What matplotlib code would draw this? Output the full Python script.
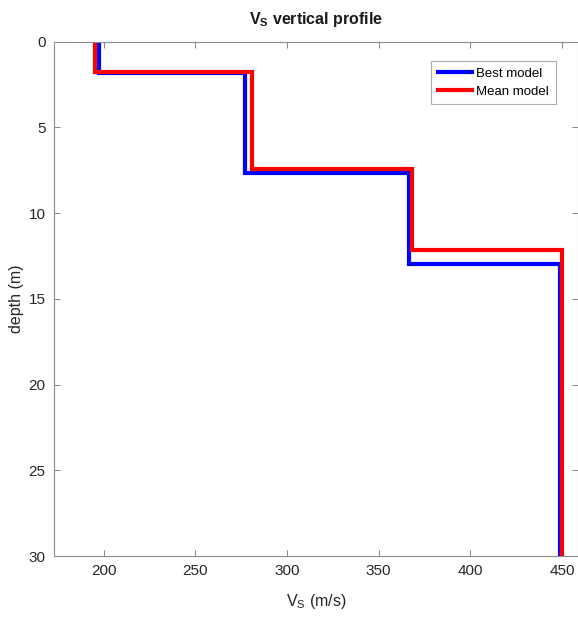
import matplotlib
matplotlib.use("Agg")
import matplotlib.pyplot as plt

plt.rcParams['font.family'] = ['Liberation Sans', 'DejaVu Sans']
plt.rcParams['mathtext.fontset'] = 'custom'
plt.rcParams['mathtext.rm'] = 'Liberation Sans'

# layer interfaces (m) and shear velocities (m/s)
best_depth = [0, 1.85, 7.65, 12.95, 30]
best_vs = [197.5, 277, 366.5, 449]
mean_depth = [0, 1.75, 7.4, 12.15, 30]
mean_vs = [195, 281, 368, 450]

x_ticks = [200, 250, 300, 350, 400, 450]
y_ticks = [0, 5, 10, 15, 20, 25, 30]


def step_xy(depth, vs):
    xs, ys = [], []
    for i, v in enumerate(vs):
        xs += [v, v]
        ys += [depth[i], depth[i + 1]]
    return xs, ys


W, H = 578, 620
fig = plt.figure(figsize=(W / 100, H / 100), dpi=100)
ax = fig.add_axes([54 / W, 1 - 556 / H, (578 - 54) / W, (556 - 41.7) / H])

bx, by = step_xy(best_depth, best_vs)
mx, my = step_xy(mean_depth, mean_vs)
ax.plot(bx, by, color='#0000ff', lw=3.0, label='Best model', solid_joinstyle='miter')
ax.plot(mx, my, color='#ff0000', lw=3.0, label='Mean model', solid_joinstyle='miter')

ax.set_xlim(172.8, 458.8)
ax.set_ylim(30, 0)
ax.set_xticks(x_ticks)
ax.set_yticks(y_ticks)
ax.tick_params(direction='in', top=True, right=True, length=4, width=0.6,
               color='0.45', labelsize=11, labelcolor='0.15', pad=6)
for s in ax.spines.values():
    s.set_color('0.55')
    s.set_linewidth(0.8)

ax.set_title(r'V$_\mathregular{S}$ vertical profile', fontsize=11.5, fontweight='bold',
             color='0.1', pad=13)
ax.set_xlabel(r'V$_\mathregular{S}$ (m/s)', fontsize=11.5, color='0.15', labelpad=10)
ax.set_ylabel('depth (m)', fontsize=11.5, color='0.15', labelpad=3)

leg = ax.legend(loc='upper right', bbox_to_anchor=(0.97, 0.975), fontsize=9.5,
                frameon=True, fancybox=False, edgecolor='0.6', handlelength=2.6,
                borderpad=0.5, labelspacing=0.4, handletextpad=0.3)
leg.get_frame().set_linewidth(0.8)

fig.savefig('out.png', dpi=100)
